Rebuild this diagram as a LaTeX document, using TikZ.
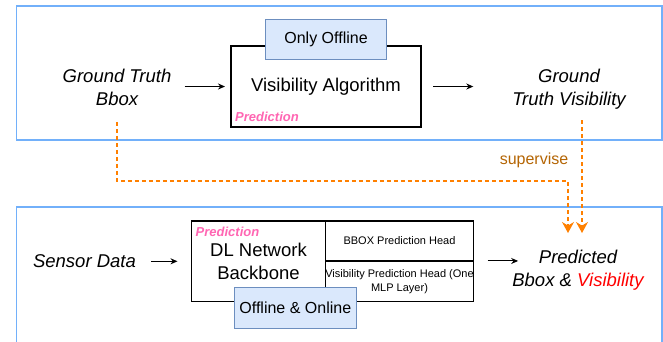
\documentclass[tikz,border=0pt]{standalone}
\usepackage{fontspec}
\setmainfont{Liberation Sans}
\usetikzlibrary{arrows.meta, positioning, calc}
\definecolor{panelblue}{HTML}{72B0FA}
\definecolor{tagfill}{HTML}{DAE8FC}
\definecolor{tagdraw}{HTML}{6C8EBF}
\definecolor{predpink}{HTML}{FF66B3}
\definecolor{suporange}{HTML}{FF8000}
\definecolor{supbrown}{HTML}{B46504}

\begin{document}
\begin{tikzpicture}[x=1pt, y=-1pt,
  panel/.style={rectangle, draw=panelblue, line width=1.5pt, minimum width=645.5pt},
  block/.style={rectangle, draw=black, line width=1.2pt, fill=white, outer sep=0pt, align=center, font=\fontsize{18.5}{23}\selectfont},
  headbox/.style={rectangle, draw=black, line width=1.2pt, outer sep=0pt, inner sep=0pt, minimum width=148pt, align=center, font=\fontsize{11}{14}\selectfont},
  tag/.style={rectangle, draw=tagdraw, fill=tagfill, line width=1pt, minimum width=121.5pt, minimum height=40.5pt, font=\fontsize{16}{19}\selectfont},
  itext/.style={align=center, inner sep=3pt, font=\fontsize{18.5}{23}\selectfont\itshape},
  predtag/.style={text=predpink, inner xsep=4pt, font=\fontsize{13}{15}\selectfont\bfseries\itshape},
  arrow/.style={-{Stealth[length=7pt, width=6pt]}, line width=1pt, shorten <=6pt, shorten >=6pt},
  suparrow/.style={-{Stealth[length=11pt, width=12pt]}, draw=suporange, line width=1.3pt, dash pattern=on 4pt off 3pt}
]
  \useasboundingbox (0,0) rectangle (663,341);
  \clip (0,0) rectangle (663,341);

  % Panels
  \node[panel, minimum height=134pt] (gtpanel) at (339.25, 73) {};
  \node[panel, minimum height=145pt] (netpanel) at (339.25, 279.5) {};

  % Ground truth row
  \node[itext, minimum width=123pt] (gtbbox) at (117, 87.5) {Ground Truth\\Bbox};
  \node[block, minimum width=190pt, minimum height=81pt] (visalg) at (326, 86.5) {Visibility Algorithm};
  \node[tag] (offonly) at (326, 39.5) {Only Offline};
  \node[predtag, anchor=south west, inner ysep=5pt] (algtag) at (visalg.south west) {Prediction};
  \node[itext, minimum width=179pt] (gtvis) at (569, 89) {Ground\\Truth Visibility};

  \draw[arrow] (gtbbox.east |- visalg.west) -- (visalg);
  \draw[arrow, shorten <=12pt] (visalg) -- (visalg -| gtvis.west);

  % Network row
  \node[itext, minimum width=121pt] (sensor) at (84.5, 261.3) {Sensor Data};
  \node[block, minimum width=134pt, minimum height=80.7pt] (dlnet) at (258.5, 261.3) {DL Network\\Backbone};
  \node[headbox, minimum height=40pt, anchor=north west] (bbhead) at (dlnet.north east) {BBOX Prediction Head};
  \node[headbox, minimum height=40.7pt, anchor=north] (vishead) at (bbhead.south) {Visibility Prediction Head (One\\MLP Layer)};
  \node[predtag, anchor=north west, inner ysep=6pt] (nettag) at (dlnet.north west) {Prediction};
  \node[tag] (offon) at (295.3, 308) {Offline \& Online};
  \node[itext] (pred) at (578, 270.5) {Predicted\\Bbox \& \textcolor{red}{Visibility}};

  \draw[arrow, shorten >=14pt] (sensor) -- (dlnet);
  \draw[arrow, shorten <=14pt, shorten >=-9pt] (bbhead.south east) -- (bbhead.south east -| pred.west);

  % Supervision
  \coordinate (supbend) at (568, 181);
  \coordinate (supleft) at (568, 233);
  \coordinate (supright) at (582, 233);
  \draw[suparrow, shorten <=13pt] (gtbbox.south) |- (supbend) -- (supleft);
  \draw[suparrow, shorten <=8pt] (gtvis.south -| supright) -- (supright);
  \node[text=supbrown, font=\fontsize{16}{19}\selectfont] (suplabel) at (534, 160) {supervise};
\end{tikzpicture}
\end{document}
